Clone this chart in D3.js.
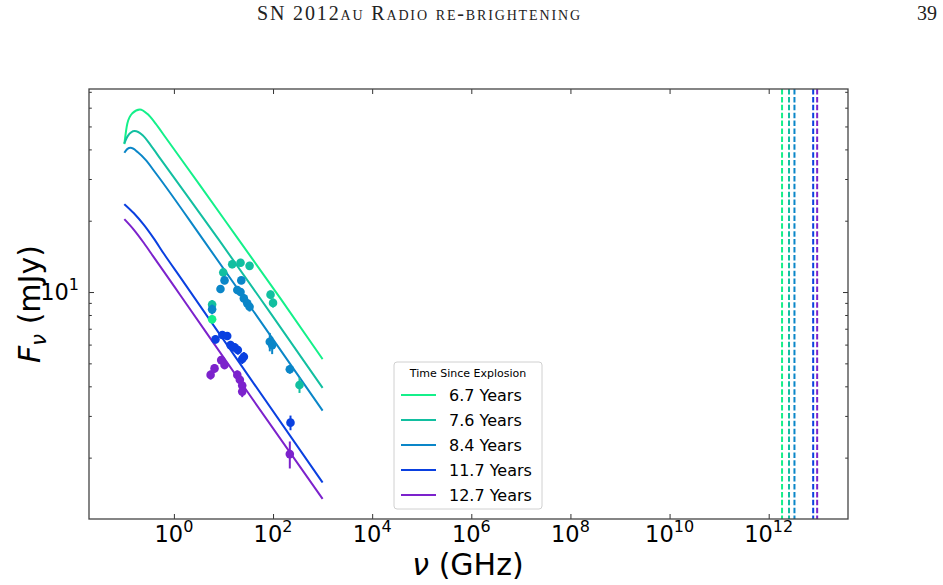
<!DOCTYPE html>
<html lang="en">
<head>
<meta charset="UTF-8">
<title>SN 2012au radio re-brightening</title>
<script src="https://cdn.jsdelivr.net/npm/d3@7"></script>
<style>
  body { margin: 0; background: #fff; }
  svg { display: block; font-family: "DejaVu Sans", sans-serif; }
</style>
</head>
<body>
<script>
// epochs shown in the legend
const epochs = ["6.7 Years", "7.6 Years", "8.4 Years", "11.7 Years", "12.7 Years"];
const colors = ["#14f08a", "#12bfa0", "#0a86c8", "#0a40e0", "#7c22cc"];

// model curves [GHz, mJy]
const curve67 = [[0.1, 42.1], [0.115, 51.5], [0.145, 56.8], [0.206, 59.0], [0.295, 56.4], [0.428, 51.4], [0.68, 44.9], [3.45, 28.0], [20.4, 16.6], [143, 9.36], [1000, 5.21]];
const curve76 = [[0.1, 42.4], [0.117, 45.5], [0.161, 47.8], [0.234, 45.9], [0.339, 41.7], [0.54, 36.4], [8.1, 16.6], [89, 8.15], [1000, 3.94]];
const curve84 = [[0.1, 38.7], [0.114, 40.1], [0.134, 40.6], [0.185, 39.0], [0.269, 36.1], [0.428, 31.8], [3.92, 16.6], [56, 7.52], [1000, 3.16]];
const curve117 = [[0.1, 23.5], [0.156, 21.5], [0.248, 19.2], [0.395, 16.8], [0.628, 14.5], [1.36, 11.5], [35.2, 4.30], [1000, 1.57]];
const curve127 = [[0.1, 20.3], [0.156, 18.3], [0.248, 16.1], [0.395, 14.0], [0.628, 12.2], [1.36, 9.67], [35.2, 3.63], [1000, 1.34]];

// observed fluxes [GHz, mJy, error]
const obs67 = [[5.9, 7.67, 0.3]];
const obs76 = [[5.9, 8.85, 0.4], [9.9, 12.1, 0.5], [15.0, 13.1, 0.5], [22.1, 13.3, 0.5], [33.6, 12.9, 0.5], [89, 9.75, 0.4], [100, 9.0, 0.4], [342, 4.05, 0.3]];
const obs84 = [[5.9, 8.45, 0.4], [8.7, 10.3, 0.4], [10.5, 11.2, 0.4], [19.0, 10.2, 0.4], [22.1, 10.0, 0.4], [22.9, 11.2, 0.4], [25.8, 9.4, 0.4], [30.2, 8.96, 0.4], [33.6, 8.67, 0.4], [86, 6.17, 0.55], [96, 5.97, 0.5], [218, 4.72, 0.2]];
const obs117 = [[6.9, 6.31, 0.25], [9.5, 6.59, 0.25], [11.9, 6.52, 0.25], [13.9, 5.97, 0.25], [16.7, 5.84, 0.25], [19.5, 5.69, 0.25], [23.9, 5.22, 0.25], [25.8, 5.33, 0.25], [225, 2.81, 0.2]];
const obs127 = [[5.5, 4.47, 0.2], [6.6, 4.76, 0.2], [9.0, 5.16, 0.2], [10.5, 4.92, 0.2], [19.0, 4.47, 0.2], [21.4, 4.26, 0.2], [23.9, 4.03, 0.2], [23.9, 3.80, 0.2], [218, 2.07, 0.27]];

// vertical dashed markers (GHz)
const cutoffs = [1.86e12, 2.57e12, 3.31e12, 7.9e12, 9.5e12];

const xTicks = [1, 1e2, 1e4, 1e6, 1e8, 1e10, 1e12];
const yMinor = [2, 3, 4, 5, 6, 7, 8, 9, 20, 30, 40, 50, 60, 70];

const curves = [curve67, curve76, curve84, curve117, curve127];
const observations = [obs67, obs76, obs84, obs117, obs127];

const width = 943, height = 585;
const pLeft = 89, pRight = 848, pTop = 89, pBottom = 519;

const svg = d3.select("body").append("svg")
    .attr("width", width)
    .attr("height", height);

// running header of the paper page
svg.append("text")
    .attr("x", 257).attr("y", 20)
    .attr("textLength", 323)
    .attr("lengthAdjust", "spacing")
    .style("font-family", "'Liberation Serif', serif")
    .style("font-variant", "small-caps")
    .style("font-size", "20px")
    .attr("fill", "#222")
    .text("SN 2012au Radio re-brightening");
svg.append("text")
    .attr("x", 937).attr("y", 20)
    .attr("text-anchor", "end")
    .style("font-family", "'Liberation Serif', serif")
    .style("font-size", "20px")
    .attr("fill", "#222")
    .text("39");

const x = d3.scaleLog()
    .domain([Math.pow(10, -1.713), Math.pow(10, 13.60)])
    .range([pLeft, pRight]);
const y = d3.scaleLog()
    .domain([Math.pow(10, 0.042), Math.pow(10, 1.857)])
    .range([pBottom, pTop]);

const plot = svg.append("g");

plot.append("clipPath").attr("id", "clip")
    .append("rect")
    .attr("x", pLeft).attr("y", pTop)
    .attr("width", pRight - pLeft).attr("height", pBottom - pTop);

// dashed lines
plot.selectAll(".cut")
    .data(cutoffs)
    .enter().append("line")
    .attr("x1", d => x(d)).attr("x2", d => x(d))
    .attr("y1", pTop).attr("y2", pBottom)
    .attr("stroke", (d, i) => colors[i])
    .attr("stroke-width", 2)
    .attr("stroke-dasharray", "5.5,2.4");

// model lines
const line = d3.line()
    .x(d => x(d[0]))
    .y(d => y(d[1]))
    .curve(d3.curveMonotoneX);

plot.selectAll(".model")
    .data(curves)
    .enter().append("path")
    .attr("fill", "none")
    .attr("stroke", (d, i) => colors[i])
    .attr("stroke-width", 2)
    .attr("d", line);

// data points with error bars
observations.forEach((obs, i) => {
    const g = plot.append("g").attr("clip-path", "url(#clip)");
    g.selectAll("line")
        .data(obs)
        .enter().append("line")
        .attr("x1", d => x(d[0])).attr("x2", d => x(d[0]))
        .attr("y1", d => y(d[1] + d[2])).attr("y2", d => y(d[1] - d[2]))
        .attr("stroke", colors[i])
        .attr("stroke-width", 2);
    g.selectAll("circle")
        .data(obs)
        .enter().append("circle")
        .attr("cx", d => x(d[0]))
        .attr("cy", d => y(d[1]))
        .attr("r", 4.3)
        .attr("fill", colors[i]);
});

// axes, ticks pointing inward on all sides
const tickCol = "#333";
function styleAxis(g) {
    g.select(".domain").remove();
    g.selectAll("line").attr("stroke", tickCol).attr("stroke-width", 1);
    g.selectAll("text").remove();
}
svg.append("g").attr("transform", `translate(0,${pBottom})`)
    .call(d3.axisBottom(x).tickValues(xTicks).tickSize(-5)).call(styleAxis);
svg.append("g").attr("transform", `translate(0,${pTop})`)
    .call(d3.axisTop(x).tickValues(xTicks).tickSize(-5)).call(styleAxis);
svg.append("g").attr("transform", `translate(${pLeft},0)`)
    .call(d3.axisLeft(y).tickValues([10]).tickSize(-5)).call(styleAxis);
svg.append("g").attr("transform", `translate(${pRight},0)`)
    .call(d3.axisRight(y).tickValues([10]).tickSize(-5)).call(styleAxis);
svg.append("g").attr("transform", `translate(${pLeft},0)`)
    .call(d3.axisLeft(y).tickValues(yMinor).tickSize(-2.8)).call(styleAxis);
svg.append("g").attr("transform", `translate(${pRight},0)`)
    .call(d3.axisRight(y).tickValues(yMinor).tickSize(-2.8)).call(styleAxis);

svg.append("rect")
    .attr("x", pLeft).attr("y", pTop)
    .attr("width", pRight - pLeft).attr("height", pBottom - pTop)
    .attr("fill", "none")
    .attr("stroke", "#444")
    .attr("stroke-width", 1.3);

// tick labels as 10^n
const xLab = svg.append("g").selectAll("text")
    .data(xTicks)
    .enter().append("text")
    .attr("x", d => x(d))
    .attr("y", 542)
    .attr("text-anchor", "middle")
    .style("font-size", "22.5px")
    .attr("fill", "#000");
xLab.append("tspan").text("10");
xLab.append("tspan")
    .attr("dy", -10)
    .style("font-size", "16px")
    .text(d => Math.round(Math.log10(d)));

const yLab = svg.append("text")
    .attr("x", 79).attr("y", y(10) + 8)
    .attr("text-anchor", "end")
    .style("font-size", "22.5px")
    .attr("fill", "#000");
yLab.append("tspan").text("10");
yLab.append("tspan").attr("dy", -10).style("font-size", "16px").text("1");

// axis titles
const xTitle = svg.append("text")
    .attr("x", 468).attr("y", 575)
    .attr("text-anchor", "middle")
    .style("font-size", "30px")
    .attr("fill", "#000");
xTitle.append("tspan").style("font-style", "italic").text("ν");
xTitle.append("tspan").text(" (GHz)");

const yTitle = svg.append("text")
    .attr("transform", `translate(40,${(pTop + pBottom) / 2}) rotate(-90)`)
    .attr("text-anchor", "middle")
    .style("font-size", "30px")
    .attr("fill", "#000");
yTitle.append("tspan").style("font-style", "italic").text("F");
yTitle.append("tspan").style("font-style", "italic").style("font-size", "21px").attr("dy", 6).text("ν");
yTitle.append("tspan").attr("dy", -6).text(" (mJy)");

// legend
const lg = svg.append("g").attr("transform", "translate(394,362)");
lg.append("rect")
    .attr("width", 148).attr("height", 147)
    .attr("rx", 3)
    .attr("fill", "#fff").attr("fill-opacity", 0.8)
    .attr("stroke", "#d0d0d0");
lg.append("text")
    .attr("x", 74).attr("y", 15)
    .attr("text-anchor", "middle")
    .style("font-size", "11px")
    .text("Time Since Explosion");
const item = lg.selectAll(".item")
    .data(epochs)
    .enter().append("g")
    .attr("transform", (d, i) => `translate(0,${33 + i * 25})`);
item.append("line")
    .attr("x1", 7).attr("x2", 42)
    .attr("stroke", (d, i) => colors[i])
    .attr("stroke-width", 2);
item.append("text")
    .attr("x", 55).attr("y", 6)
    .style("font-size", "16px")
    .text(d => d);
</script>
</body>
</html>
